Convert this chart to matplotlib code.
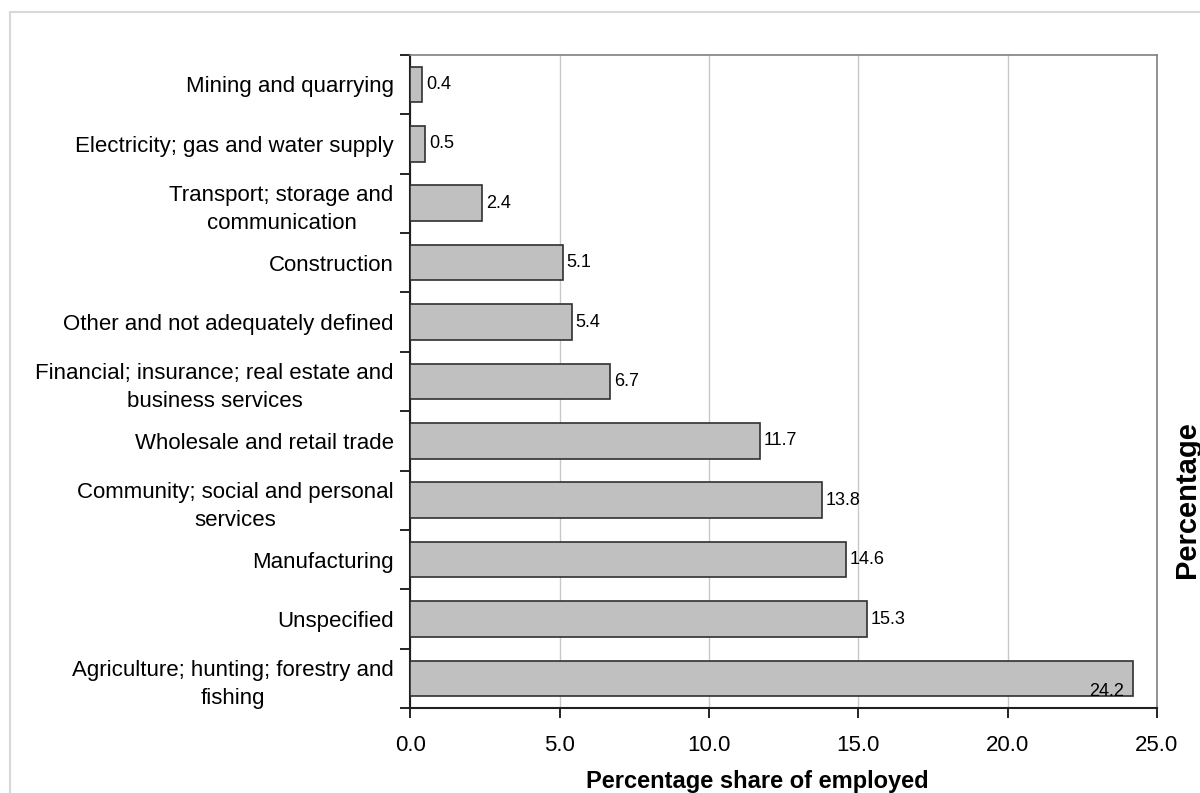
import numpy as np
from matplotlib import pyplot as plt

plt.rcParams['font.family'] = ['Liberation Sans Narrow', 'Liberation Sans', 'DejaVu Sans']

categories = [
    "Mining and quarrying",
    "Electricity; gas and water supply",
    "Transport; storage and\ncommunication",
    "Construction",
    "Other and not adequately defined",
    "Financial; insurance; real estate and\nbusiness services",
    "Wholesale and retail trade",
    "Community; social and personal\nservices",
    "Manufacturing",
    "Unspecified",
    "Agriculture; hunting; forestry and\nfishing",
]
values = [0.4, 0.5, 2.4, 5.1, 5.4, 6.7, 11.7, 13.8, 14.6, 15.3, 24.2]
x_ticks = [0.0, 5.0, 10.0, 15.0, 20.0, 25.0]

fig = plt.figure(figsize=(12, 7.93), dpi=100)
ax = fig.add_axes([0.342, 0.107, 0.622, 0.824])

y = np.arange(len(categories))
ax.barh(y, values, height=0.6, color="#c0c0c0", edgecolor="#303030", linewidth=1.2, zorder=3)

for yi, v in zip(y, values):
    if v > 20:
        ax.text(v - 0.3, yi + 0.22, f"{v:.1f}", ha="right", va="center", fontsize=13, zorder=4)
    else:
        ax.text(v + 0.12, yi, f"{v:.1f}", ha="left", va="center", fontsize=13, zorder=4)

ax.set_ylim(len(categories) - 0.5, -0.5)
ax.set_xlim(0, 25)
ax.set_yticks(y)
ax.set_yticklabels(categories, fontsize=16, ha="right", multialignment="center", linespacing=1.45)
ax.tick_params(axis="y", which="major", length=0, pad=12)
ax.set_yticks(np.arange(-0.5, len(categories), 1.0), minor=True)
ax.tick_params(axis="y", which="minor", length=7, width=1.2, direction="out")

ax.set_xticks(x_ticks)
ax.set_xticklabels([f"{t:.1f}" for t in x_ticks], fontsize=16)
ax.tick_params(axis="x", length=7, width=1.2, direction="out", pad=12)
ax.grid(axis="x", color="#c8c8c8", linewidth=1, zorder=0)

for side in ["left", "bottom"]:
    ax.spines[side].set_color("#202020")
    ax.spines[side].set_linewidth(1.5)
for side in ["top", "right"]:
    ax.spines[side].set_color("#808080")
    ax.spines[side].set_linewidth(1.2)

ax.set_xlabel("Percentage share of employed", fontsize=17, fontweight="bold")
ax.xaxis.set_label_coords(0.4645, -0.095)
fig.text(0.989, 0.37, "Percentage", rotation=90, ha="center", va="center",
         fontsize=21, fontweight="bold", family=["Liberation Sans", "DejaVu Sans"])

# light frame around the screenshot
fig.patches.append(plt.Rectangle((0.008, -0.01), 1.1, 0.995, transform=fig.transFigure,
                                 fill=False, edgecolor="#d8d8d8", linewidth=1.5))

fig.savefig("out.png", dpi=100)
